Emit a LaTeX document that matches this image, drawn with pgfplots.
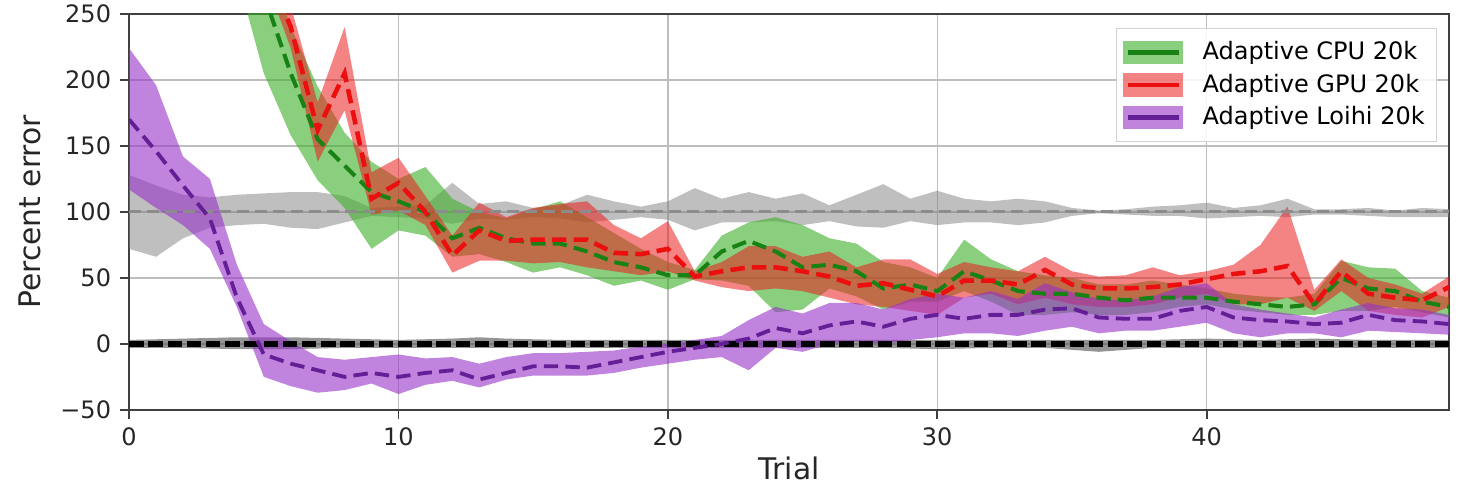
\documentclass[border=0pt]{standalone}
\usepackage{fontspec}
\setmainfont{DejaVu Sans}
\usepackage{pgfplots}
\pgfplotsset{compat=1.18}
\usepackage{pgfplotstable}
\usepgfplotslibrary{fillbetween}

\definecolor{cpufill}{RGB}{60,175,40}
\definecolor{cpuline}{RGB}{25,130,20}
\definecolor{gpufill}{RGB}{235,30,30}
\definecolor{gpuline}{RGB}{235,15,15}
\definecolor{loifill}{RGB}{150,50,200}
\definecolor{loiline}{RGB}{100,30,150}
\definecolor{gridc}{RGB}{190,190,190}
\definecolor{basefill}{RGB}{128,128,128}

\pgfplotstableread{
t m lo hi
0 170 117 224
1 146 103 196
2 120 90 142
3 95 72 125
4 35 28 60
5 -8 -25 15
6 -15 -32 2
7 -20 -37 -10
8 -25 -35 -12
9 -22 -30 -10
10 -25 -38 -8
11 -22 -31 -11
12 -20 -28 -10
13 -27 -33 -15
14 -22 -27 -10
15 -17 -24 -7
16 -17 -24 -7
17 -18 -24 -6
18 -14 -22 -5
19 -10 -18 -2
20 -6 -15 0
21 -3 -12 3
22 0 -10 6
23 4 -20 18
24 12 -3 28
25 8 -6 23
26 14 0 31
27 17 2 31
28 13 0 26
29 19 3 34
30 22 5 38
31 19 8 35
32 22 8 40
33 22 6 34
34 26 10 46
35 27 13 39
36 20 8 34
37 19 10 33
38 19 10 36
39 25 13 43
40 28 16 46
41 20 8 30
42 18 5 26
43 17 8 23
44 15 8 20
45 16 5 26
46 22 10 31
47 18 9 27
48 17 8 26
49 15 7 22
}\loihi

\pgfplotstableread{
t m lo hi
0 560 480 640
1 500 430 580
2 440 380 520
3 380 330 450
4 320 280 370
5 265 205 300
6 205 158 240
7 155 124 195
8 135 103 160
9 115 72 138
10 108 86 125
11 100 82 134
12 80 66 110
13 88 68 100
14 80 62 95
15 76 54 102
16 76 58 108
17 70 52 96
18 62 44 84
19 58 48 72
20 52 41 62
21 52 49 56
22 70 48 82
23 78 44 92
24 70 24 96
25 58 26 90
26 60 42 80
27 55 36 76
28 42 26 62
29 45 32 58
30 40 32 50
31 55 40 79
32 48 32 64
33 40 22 55
34 38 22 52
35 38 24 50
36 35 22 45
37 33 22 45
38 35 24 48
39 35 28 45
40 35 30 42
41 32 26 38
42 30 24 36
43 28 22 35
44 30 22 38
45 50 25 63
46 42 25 58
47 40 28 57
48 32 24 40
49 28 20 35
}\cpu

\pgfplotstableread{
t m lo hi
0 620 560 700
1 560 500 620
2 490 440 540
3 420 380 460
4 350 320 390
5 292 280 330
6 240 224 256
7 162 138 183
8 205 177 240
9 110 98 130
10 122 101 141
11 100 90 112
12 67 54 82
13 86 63 107
14 78 63 96
15 79 61 103
16 79 62 106
17 79 58 108
18 69 55 90
19 68 52 80
20 72 55 93
21 51 48 55
22 55 43 62
23 58 40 74
24 58 42 74
25 55 40 66
26 51 35 70
27 44 30 58
28 46 28 64
29 41 25 64
30 36 22 53
31 48 35 62
32 48 38 58
33 45 30 55
34 56 35 66
35 45 30 55
36 42 28 51
37 42 28 52
38 43 30 58
39 45 35 52
40 49 38 55
41 53 30 60
42 55 30 75
43 59 35 104
44 30 25 41
45 55 40 64
46 38 25 50
47 35 22 45
48 33 20 38
49 43 28 51
}\gpu

\pgfplotstableread{
t m lo hi
0 100 72 128
1 100 66 120
2 100 80 113
3 100 88 111
4 100 90 113
5 100 91 114
6 100 88 115
7 100 87 115
8 100 92 112
9 100 97 103
10 100 96 104
11 100 95 105
12 100 91 122
13 100 95 106
14 100 94 108
15 100 96 103
16 100 95 105
17 100 92 113
18 100 94 108
19 100 96 104
20 100 94 108
21 100 86 118
22 100 92 110
23 100 92 115
24 100 93 110
25 100 90 114
26 100 93 105
27 100 89 113
28 100 88 121
29 100 93 110
30 100 90 116
31 100 92 110
32 100 92 108
33 100 90 110
34 100 92 108
35 100 97 103
36 100 99 101
37 100 98 102
38 100 97 104
39 100 97 105
40 100 95 107
41 100 96 103
42 100 97 105
43 100 96 110
44 100 98 102
45 100 98 102
46 100 97 103
47 100 96 101
48 100 96 103
49 100 96 102
}\base

\pgfplotstableread{
t m lo hi
0 0 -3 3
2 0 -3 4
4 0 -4 5
6 0 -4 5
8 0 -3 4
10 0 -3 3
12 0 -3 4
13 0 -3 5
14 0 -3 4
16 0 -3 3
18 0 -3 3
20 0 -3 3
22 0 -3 3
24 0 -3 3
26 0 -3 3
28 0 -3 3
30 0 -4 3
32 0 -3 3
34 0 -3 3
36 0 -6 3
38 0 -3 3
40 0 -3 4
42 0 -3 3
44 0 -3 4
46 0 -3 3
49 0 -3 3
}\zero

\begin{document}
\begin{tikzpicture}
\begin{axis}[
  scale only axis, width=550pt, height=165pt,
  xmin=0, xmax=49, ymin=-50, ymax=250,
  xtick={0,10,20,30,40},
  ytick={-50,0,50,100,150,200,250},
  yticklabels={−50,0,50,100,150,200,250},
  grid=major, grid style={gridc, line width=0.6pt},
  axis line style={black!75, line width=0.8pt},
  tick align=outside, major tick length=4pt,
  tick style={black!75, line width=0.8pt},
  xtick pos=lower, ytick pos=left,
  tick label style={font=\fontsize{10}{12}\selectfont, text=black!85},
  /pgf/number format/assume math mode=true,
  xlabel={Trial}, ylabel={Percent error},
  label style={font=\fontsize{12.4}{14}\selectfont, text=black!85},
  xlabel style={at={(axis description cs:0.5,-0.147)}, anchor=center},
  ylabel style={at={(axis description cs:-0.075,0.5)}, anchor=center},
  legend style={at={(0.991,0.965)}, anchor=north east, draw=gray!35,
    fill=white, fill opacity=0.85, text opacity=1, draw opacity=1,
    font=\fontsize{10}{12}\selectfont, row sep=0.5pt, inner xsep=3pt, inner ysep=3.5pt},
  legend cell align=left,
]
% baseline (non-adaptive)
\addplot[name path=bh, draw=none, forget plot] table[x=t,y=hi]{\base};
\addplot[name path=bl, draw=none, forget plot] table[x=t,y=lo]{\base};
\addplot[basefill, fill opacity=0.5, forget plot] fill between[of=bh and bl];
\addplot[gray!90, line width=1.3pt, dash pattern=on 5pt off 2.5pt, forget plot] table[x=t,y=m]{\base};
% zero reference
\addplot[name path=zh, draw=none, forget plot] table[x=t,y=hi]{\zero};
\addplot[name path=zl, draw=none, forget plot] table[x=t,y=lo]{\zero};
\addplot[black!70, fill opacity=0.6, forget plot] fill between[of=zh and zl];
\addplot[black, line width=2.4pt, dash pattern=on 6pt off 2pt, forget plot] table[x=t,y=m]{\zero};
% CPU
\addplot[name path=ch, draw=none, forget plot] table[x=t,y=hi]{\cpu};
\addplot[name path=cl, draw=none, forget plot] table[x=t,y=lo]{\cpu};
\addplot[cpufill, fill opacity=0.6, forget plot] fill between[of=ch and cl];
\addplot[cpuline, line width=1.7pt, dash pattern=on 6pt off 3pt, forget plot] table[x=t,y=m]{\cpu};
% GPU
\addplot[name path=gh, draw=none, forget plot] table[x=t,y=hi]{\gpu};
\addplot[name path=gl, draw=none, forget plot] table[x=t,y=lo]{\gpu};
\addplot[gpufill, fill opacity=0.55, forget plot] fill between[of=gh and gl];
\addplot[gpuline, line width=1.9pt, dash pattern=on 6pt off 3pt, forget plot] table[x=t,y=m]{\gpu};
% Loihi
\addplot[name path=lh, draw=none, forget plot] table[x=t,y=hi]{\loihi};
\addplot[name path=ll, draw=none, forget plot] table[x=t,y=lo]{\loihi};
\addplot[loifill, fill opacity=0.6, forget plot] fill between[of=lh and ll];
\addplot[loiline, line width=1.6pt, dash pattern=on 6pt off 3pt, forget plot] table[x=t,y=m]{\loihi};

\addlegendimage{legend image code/.code={
  \fill[cpufill, fill opacity=0.6, draw=none] (0pt,-4.8pt) rectangle (25pt,4.8pt);
  \draw[cpuline, draw opacity=1, line width=2pt] (2pt,0pt) -- (23pt,0pt);
  \path[draw=none, fill=none] (25pt,0pt) rectangle (31pt,0.1pt);}}
\addlegendentry{Adaptive CPU 20k}
\addlegendimage{legend image code/.code={
  \fill[gpufill, fill opacity=0.55, draw=none] (0pt,-4.8pt) rectangle (25pt,4.8pt);
  \draw[gpuline, draw opacity=1, line width=2pt] (2pt,0pt) -- (23pt,0pt);
  \path[draw=none, fill=none] (25pt,0pt) rectangle (31pt,0.1pt);}}
\addlegendentry{Adaptive GPU 20k}
\addlegendimage{legend image code/.code={
  \fill[loifill, fill opacity=0.6, draw=none] (0pt,-4.8pt) rectangle (25pt,4.8pt);
  \draw[loiline, draw opacity=1, line width=2pt] (2pt,0pt) -- (23pt,0pt);
  \path[draw=none, fill=none] (25pt,0pt) rectangle (31pt,0.1pt);}}
\addlegendentry{Adaptive Loihi 20k}
\end{axis}
\pgfresetboundingbox
\path[use as bounding box] ([xshift=-53.8pt,yshift=-33.8pt]current axis.south west) rectangle ([xshift=7.9pt,yshift=5.8pt]current axis.north east);
\end{tikzpicture}
\end{document}
